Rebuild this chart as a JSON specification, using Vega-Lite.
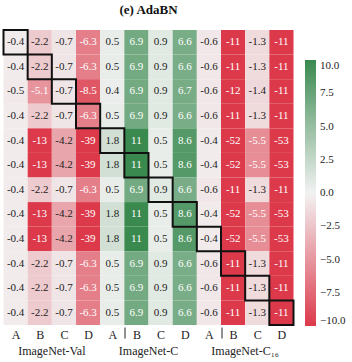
{
  "$schema": "https://vega.github.io/schema/vega-lite/v6.json",
  "autosize": {"type": "none"},
  "padding": {"left": 3.5, "top": 30, "right": 58.5, "bottom": 37},
  "width": 290,
  "height": 295,
  "background": "white",
  "title": {"text": "(e) AdaBN", "font": "Liberation Serif", "fontWeight": "bold", "fontSize": 13, "anchor": "middle", "offset": 12, "color": "#111"},
  "config": {"view": {"stroke": null}, "font": "Liberation Serif"},
  "resolve": {"scale": {"x": "independent"}, "axis": {"x": "independent"}},
  "layer": [
    {
      "data": {"values": [
        {"r":1,"c":1,"v":-0.4},{"r":1,"c":2,"v":-2.2},{"r":1,"c":3,"v":-0.7},{"r":1,"c":4,"v":-6.3},{"r":1,"c":5,"v":0.5},{"r":1,"c":6,"v":6.9},{"r":1,"c":7,"v":0.9},{"r":1,"c":8,"v":6.6},{"r":1,"c":9,"v":-0.6},{"r":1,"c":10,"v":-11},{"r":1,"c":11,"v":-1.3},{"r":1,"c":12,"v":-11},
        {"r":2,"c":1,"v":-0.4},{"r":2,"c":2,"v":-2.2},{"r":2,"c":3,"v":-0.7},{"r":2,"c":4,"v":-6.3},{"r":2,"c":5,"v":0.5},{"r":2,"c":6,"v":6.9},{"r":2,"c":7,"v":0.9},{"r":2,"c":8,"v":6.6},{"r":2,"c":9,"v":-0.6},{"r":2,"c":10,"v":-11},{"r":2,"c":11,"v":-1.3},{"r":2,"c":12,"v":-11},
        {"r":3,"c":1,"v":-0.5},{"r":3,"c":2,"v":-5.1},{"r":3,"c":3,"v":-0.7},{"r":3,"c":4,"v":-8.5},{"r":3,"c":5,"v":0.4},{"r":3,"c":6,"v":6.9},{"r":3,"c":7,"v":0.9},{"r":3,"c":8,"v":6.7},{"r":3,"c":9,"v":-0.6},{"r":3,"c":10,"v":-12},{"r":3,"c":11,"v":-1.4},{"r":3,"c":12,"v":-11},
        {"r":4,"c":1,"v":-0.4},{"r":4,"c":2,"v":-2.2},{"r":4,"c":3,"v":-0.7},{"r":4,"c":4,"v":-6.3},{"r":4,"c":5,"v":0.5},{"r":4,"c":6,"v":6.9},{"r":4,"c":7,"v":0.9},{"r":4,"c":8,"v":6.6},{"r":4,"c":9,"v":-0.6},{"r":4,"c":10,"v":-11},{"r":4,"c":11,"v":-1.3},{"r":4,"c":12,"v":-11},
        {"r":5,"c":1,"v":-0.4},{"r":5,"c":2,"v":-13},{"r":5,"c":3,"v":-4.2},{"r":5,"c":4,"v":-39},{"r":5,"c":5,"v":1.8},{"r":5,"c":6,"v":11},{"r":5,"c":7,"v":0.5},{"r":5,"c":8,"v":8.6},{"r":5,"c":9,"v":-0.4},{"r":5,"c":10,"v":-52},{"r":5,"c":11,"v":-5.5},{"r":5,"c":12,"v":-53},
        {"r":6,"c":1,"v":-0.4},{"r":6,"c":2,"v":-13},{"r":6,"c":3,"v":-4.2},{"r":6,"c":4,"v":-39},{"r":6,"c":5,"v":1.8},{"r":6,"c":6,"v":11},{"r":6,"c":7,"v":0.5},{"r":6,"c":8,"v":8.6},{"r":6,"c":9,"v":-0.4},{"r":6,"c":10,"v":-52},{"r":6,"c":11,"v":-5.5},{"r":6,"c":12,"v":-53},
        {"r":7,"c":1,"v":-0.4},{"r":7,"c":2,"v":-2.2},{"r":7,"c":3,"v":-0.7},{"r":7,"c":4,"v":-6.3},{"r":7,"c":5,"v":0.5},{"r":7,"c":6,"v":6.9},{"r":7,"c":7,"v":0.9},{"r":7,"c":8,"v":6.6},{"r":7,"c":9,"v":-0.6},{"r":7,"c":10,"v":-11},{"r":7,"c":11,"v":-1.3},{"r":7,"c":12,"v":-11},
        {"r":8,"c":1,"v":-0.4},{"r":8,"c":2,"v":-13},{"r":8,"c":3,"v":-4.2},{"r":8,"c":4,"v":-39},{"r":8,"c":5,"v":1.8},{"r":8,"c":6,"v":11},{"r":8,"c":7,"v":0.5},{"r":8,"c":8,"v":8.6},{"r":8,"c":9,"v":-0.4},{"r":8,"c":10,"v":-52},{"r":8,"c":11,"v":-5.5},{"r":8,"c":12,"v":-53},
        {"r":9,"c":1,"v":-0.4},{"r":9,"c":2,"v":-13},{"r":9,"c":3,"v":-4.2},{"r":9,"c":4,"v":-39},{"r":9,"c":5,"v":1.8},{"r":9,"c":6,"v":11},{"r":9,"c":7,"v":0.5},{"r":9,"c":8,"v":8.6},{"r":9,"c":9,"v":-0.4},{"r":9,"c":10,"v":-52},{"r":9,"c":11,"v":-5.5},{"r":9,"c":12,"v":-53},
        {"r":10,"c":1,"v":-0.4},{"r":10,"c":2,"v":-2.2},{"r":10,"c":3,"v":-0.7},{"r":10,"c":4,"v":-6.3},{"r":10,"c":5,"v":0.5},{"r":10,"c":6,"v":6.9},{"r":10,"c":7,"v":0.9},{"r":10,"c":8,"v":6.6},{"r":10,"c":9,"v":-0.6},{"r":10,"c":10,"v":-11},{"r":10,"c":11,"v":-1.3},{"r":10,"c":12,"v":-11},
        {"r":11,"c":1,"v":-0.4},{"r":11,"c":2,"v":-2.2},{"r":11,"c":3,"v":-0.7},{"r":11,"c":4,"v":-6.3},{"r":11,"c":5,"v":0.5},{"r":11,"c":6,"v":6.9},{"r":11,"c":7,"v":0.9},{"r":11,"c":8,"v":6.6},{"r":11,"c":9,"v":-0.6},{"r":11,"c":10,"v":-11},{"r":11,"c":11,"v":-1.3},{"r":11,"c":12,"v":-11},
        {"r":12,"c":1,"v":-0.4},{"r":12,"c":2,"v":-2.2},{"r":12,"c":3,"v":-0.7},{"r":12,"c":4,"v":-6.3},{"r":12,"c":5,"v":0.5},{"r":12,"c":6,"v":6.9},{"r":12,"c":7,"v":0.9},{"r":12,"c":8,"v":6.6},{"r":12,"c":9,"v":-0.6},{"r":12,"c":10,"v":-11},{"r":12,"c":11,"v":-1.3},{"r":12,"c":12,"v":-11}
      ]},
      "encoding": {
        "x": {"field": "c", "type": "ordinal", "scale": {"paddingInner": 0, "paddingOuter": 0},
          "axis": {"orient": "bottom", "title": null, "domain": false, "ticks": true, "tickBand": "extent", "tickSize": 11, "tickColor": "#222", "tickWidth": 1,
            "tickOpacity": {"condition": {"test": "datum.value == 5 || datum.value == 9", "value": 1}, "value": 0},
            "labelExpr": "['A','B','C','D'][(datum.value - 1) % 4]", "labelFont": "Liberation Serif", "labelFontSize": 12, "labelColor": "#222", "labelPadding": -9, "labelAngle": 0, "offset": 2}},
        "y": {"field": "r", "type": "ordinal", "scale": {"paddingInner": 0, "paddingOuter": 0}, "axis": null}
      },
      "layer": [
        {
          "mark": {"type": "rect"},
          "encoding": {
            "color": {"field": "v", "type": "quantitative",
              "scale": {"domain": [-10, 0, 10], "range": ["#dc3a4b", "#f2f2f2", "#3a8a50"], "interpolate": "rgb", "clamp": true},
              "legend": {"orient": "none", "legendX": 301.5, "legendY": 30, "direction": "vertical", "title": null, "gradientLength": 266, "gradientThickness": 11, "gradientStrokeWidth": 0, "values": [-10, -7.5, -5, -2.5, 0, 2.5, 5, 7.5, 10], "format": ".1f", "labelFont": "Liberation Serif", "labelFontSize": 11, "labelColor": "#222", "labelOffset": 4}}
          }
        },
        {
          "mark": {"type": "text", "font": "Liberation Serif", "fontSize": 11, "align": "center", "baseline": "middle"},
          "encoding": {
            "text": {"field": "v", "type": "nominal"},
            "color": {"condition": {"test": "abs(datum.v) > 4.5", "value": "white"}, "value": "#222"}
          }
        },
        {
          "transform": [{"filter": "datum.r == datum.c"}],
          "mark": {"type": "rect", "fill": "transparent", "stroke": "#111", "strokeWidth": 2}
        }
      ]
    },
    {
      "data": {"values": [{"g": "ImageNet-Val"}, {"g": "ImageNet-C"}, {"g": "ImageNet-C₁₆"}]},
      "mark": {"type": "rect", "opacity": 0},
      "encoding": {
        "x": {"field": "g", "type": "nominal", "scale": {"domain": ["ImageNet-Val", "ImageNet-C", "ImageNet-C₁₆"], "paddingInner": 0, "paddingOuter": 0},
          "axis": {"orient": "bottom", "title": null, "domain": false, "ticks": false, "labelPadding": 20, "labelFont": "Liberation Serif", "labelFontSize": 12, "labelColor": "#222", "labelAngle": 0}}
      }
    }
  ]
}
